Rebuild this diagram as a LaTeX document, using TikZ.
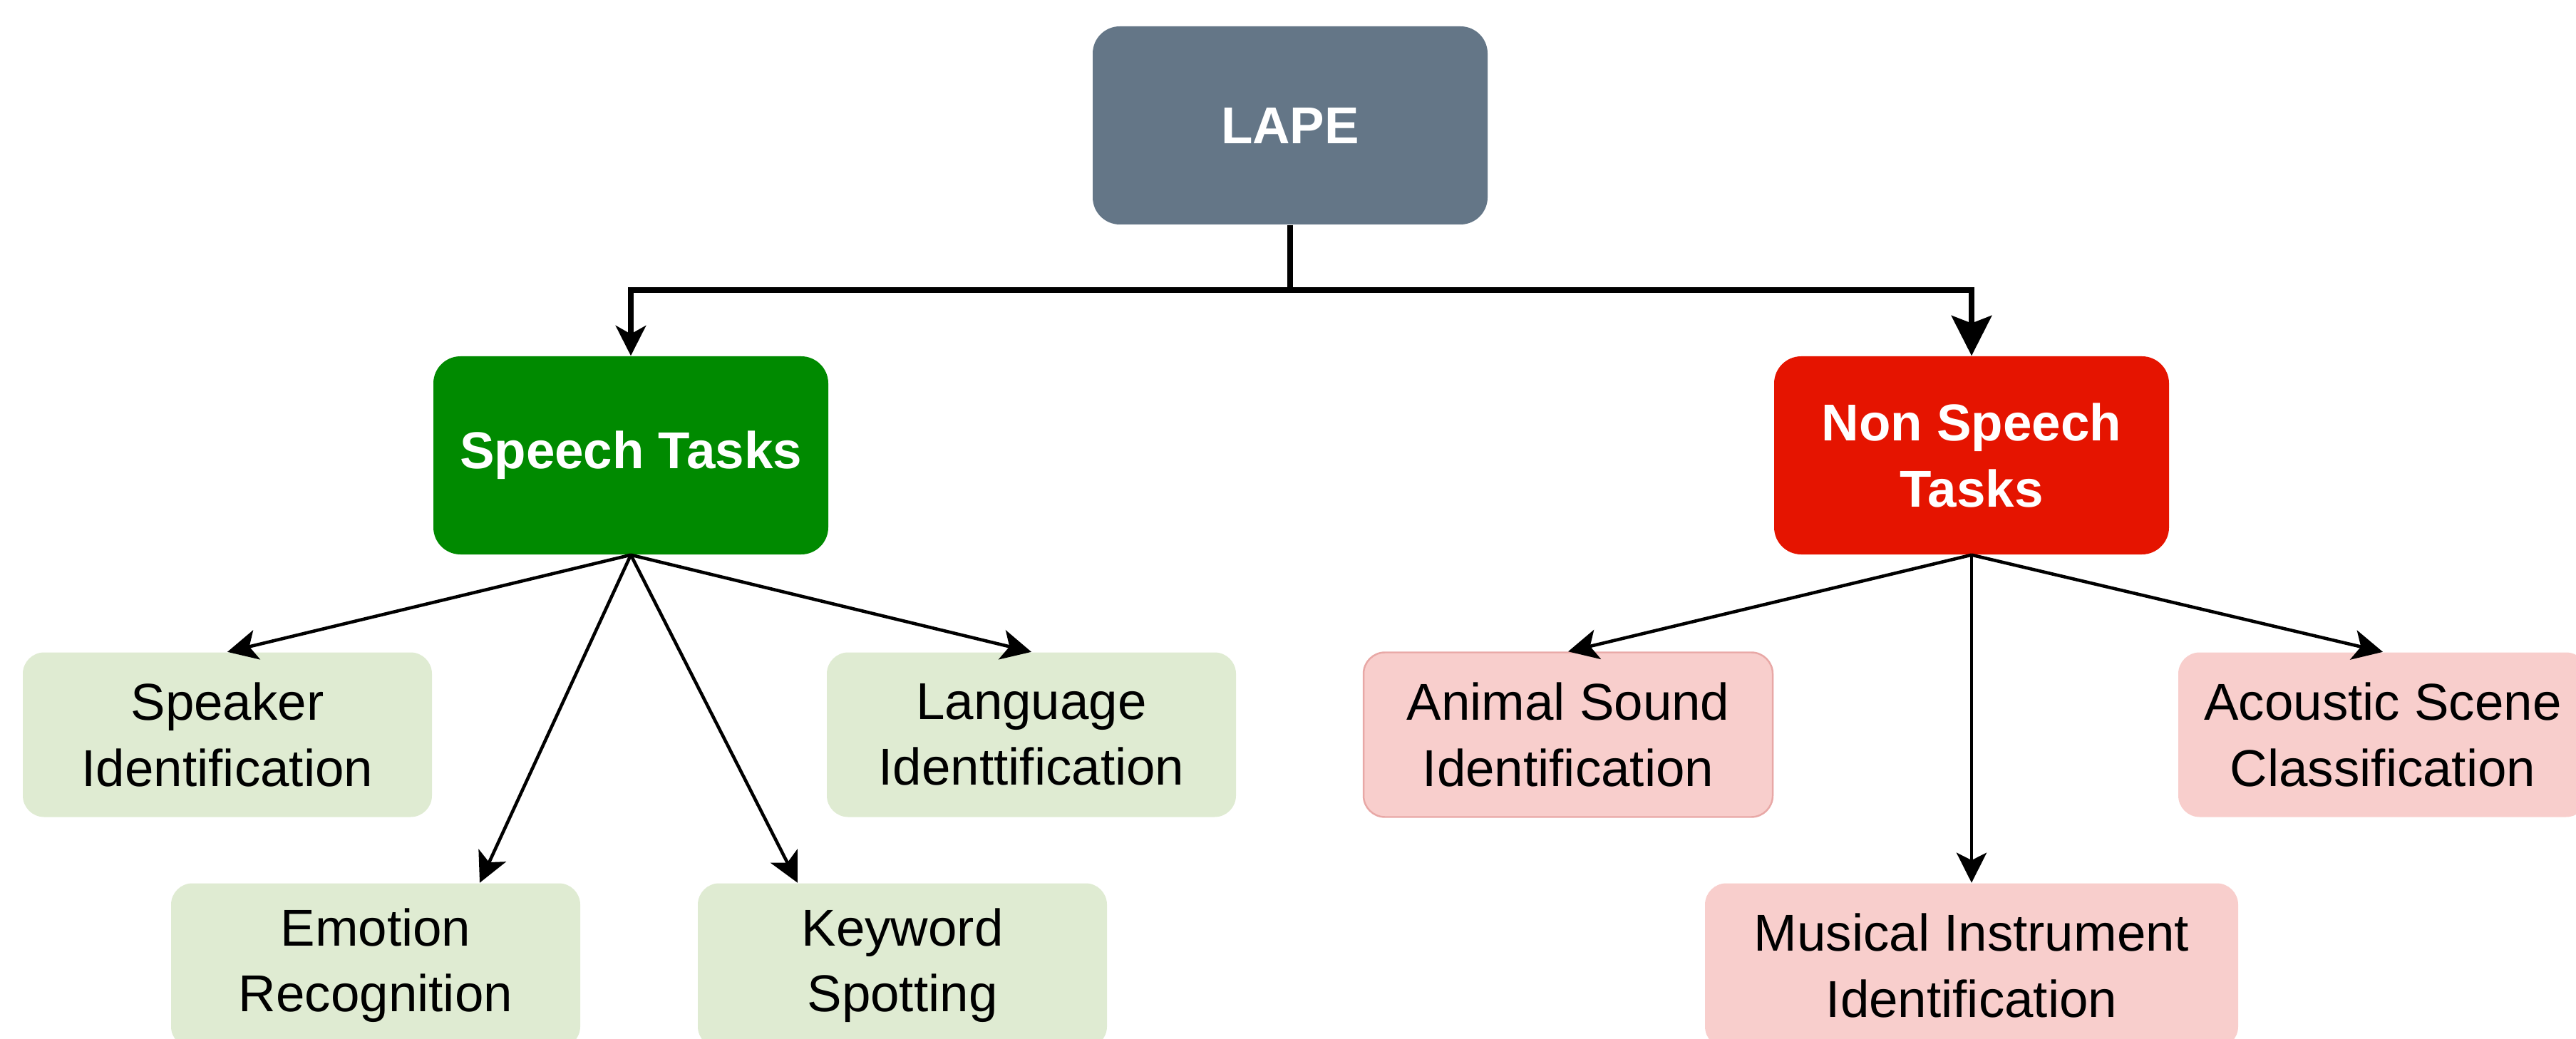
\documentclass[tikz,border=0pt]{standalone}
\usepackage{fontspec}
\setmainfont{Liberation Sans}
\usetikzlibrary{arrows.meta}
\definecolor{slate}{HTML}{647687}
\definecolor{grn}{HTML}{008A00}
\definecolor{rd}{HTML}{E51400}
\definecolor{lightgrn}{HTML}{DFEBD2}
\definecolor{lightrd}{HTML}{F8CECC}
\definecolor{rdline}{HTML}{E8A8A6}

\begin{document}
\begin{tikzpicture}[
  txt/.style={font=\fontsize{20.7}{26.2}\selectfont, align=center, inner sep=0pt},
  head/.style={txt, font=\fontsize{20.7}{26.2}\selectfont\bfseries, text=white,
    rounded corners=0.38cm, minimum width=5.54cm, minimum height=2.78cm},
  task/.style={txt, rounded corners=0.3cm, minimum width=5.74cm, minimum height=2.31cm},
  trunk/.style={line width=2.3pt},
  leaf/.style={line width=1.3pt, -{Stealth[length=12pt,width=12pt,inset=3pt]}}
]
\useasboundingbox (0,0) rectangle (36.14,14.57);

\node [head, fill=slate] (lape) at (18.10,12.81) {LAPE};
\node [head, fill=grn] (sp) at (8.85,8.18) {Speech Tasks};
\node [head, fill=rd] (nsp) at (27.66,8.18) {Non Speech\\Tasks};

% speech tasks
\node [task, fill=lightgrn] (spk) at (3.19,4.26) {Speaker\\Identification};
\node [task, fill=lightgrn] (lang) at (14.47,4.26) {Language\\Identtification};
\node [task, fill=lightgrn] (emo) at (5.27,1.02) {Emotion\\Recognition};
\node [task, fill=lightgrn] (kws) at (12.66,1.02) {Keyword\\Spotting};

% non speech tasks
\node [task, fill=lightrd, draw=rdline, line width=0.7pt] (ani) at (22.00,4.26) {Animal Sound\\Identification};
\node [task, fill=lightrd] (asc) at (33.43,4.26) {Acoustic Scene\\Classification};
\node [task, fill=lightrd, minimum width=7.48cm] (mus) at (27.66,1.02) {Musical Instrument\\Identification};

\coordinate (fork) at (18.10,10.50);
\draw [trunk] (lape.south) -- (fork);
\draw [trunk, -{Stealth[length=12pt,width=12pt,inset=3.3pt]}] (fork) -| (sp.north);
\draw [trunk, -{Stealth[length=16pt,width=16pt,inset=3pt]}] (fork) -| (nsp.north);

\draw [leaf] (sp.south) -- (spk.north);
\draw [leaf] (sp.south) -- (lang.north);
\draw [leaf] (sp.south) -- ([xshift=1.46cm]emo.north);
\draw [leaf] (sp.south) -- ([xshift=-1.47cm]kws.north);

\draw [leaf] (nsp.south) -- (ani.north);
\draw [leaf] (nsp.south) -- (asc.north);
\draw [leaf] (nsp.south) -- (mus.north);
\end{tikzpicture}
\end{document}
